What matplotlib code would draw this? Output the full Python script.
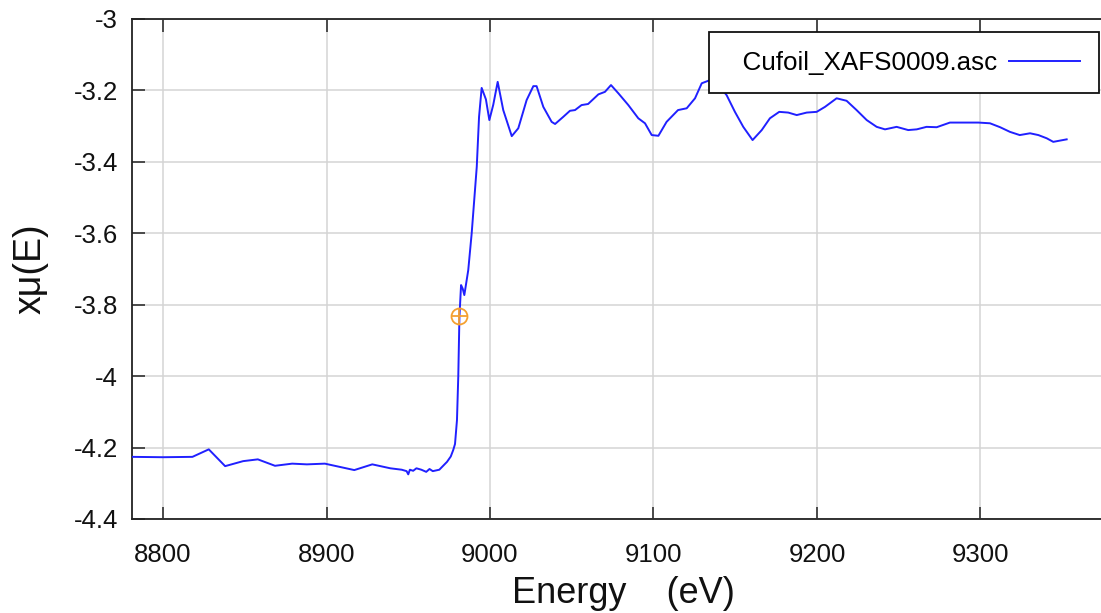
import matplotlib
matplotlib.use("Agg")
import matplotlib.pyplot as plt
from matplotlib.ticker import FixedLocator, FixedFormatter

plt.rcParams['font.family'] = ['Liberation Sans', 'DejaVu Sans']

# Data
energy = [8781, 8800, 8818, 8828, 8838, 8849, 8858, 8868.5, 8879, 8888, 8899, 8908, 8917,
          8928, 8939, 8946, 8949, 8950, 8951, 8953, 8955, 8958, 8961, 8963, 8965, 8969,
          8973.7, 8976, 8977.5, 8978.6, 8979.8, 8980.6, 8981.3, 8982.3, 8983.3, 8984.3,
          8986.7, 8988.8, 8991.9, 8993.3, 8994.9, 8997.5, 8999.6, 9002, 9004.7, 9008.1,
          9013.3, 9017.3, 9022.4, 9026.5, 9028.5, 9032.6, 9037.7, 9039.8, 9044.8, 9048.9,
          9052, 9056, 9060, 9066.3, 9070.3, 9074, 9078.5, 9084.6, 9090.7, 9094.8, 9098.9,
          9103, 9108, 9115, 9120.3, 9125.4, 9129.5, 9134.6, 9139.6, 9144.7, 9149.8, 9154.9,
          9160.6, 9166.2, 9171.2, 9176.9, 9182.4, 9187.6, 9193.7, 9199.8, 9204.9, 9212,
          9218.1, 9224.2, 9230.4, 9236.5, 9241.6, 9248.7, 9255.8, 9261, 9267, 9273.2,
          9281.3, 9289.5, 9298.7, 9305.8, 9312, 9318, 9324, 9330.3, 9335.4, 9340.5,
          9344.5, 9352.7]
mu = [-4.226, -4.227, -4.226, -4.205, -4.252, -4.238, -4.233, -4.251, -4.245, -4.247,
      -4.245, -4.254, -4.263, -4.247, -4.258, -4.262, -4.266, -4.275, -4.262, -4.265,
      -4.258, -4.262, -4.268, -4.260, -4.266, -4.262, -4.240, -4.225, -4.207, -4.190,
      -4.123, -4.00, -3.834, -3.745, -3.755, -3.773, -3.703, -3.60, -3.414, -3.274,
      -3.193, -3.225, -3.283, -3.240, -3.176, -3.255, -3.328, -3.306, -3.227, -3.188,
      -3.188, -3.246, -3.288, -3.294, -3.274, -3.257, -3.255, -3.241, -3.238, -3.211,
      -3.204, -3.185, -3.208, -3.241, -3.278, -3.292, -3.325, -3.327, -3.288, -3.255,
      -3.250, -3.222, -3.18, -3.171, -3.185, -3.213, -3.260, -3.302, -3.339, -3.311,
      -3.278, -3.260, -3.262, -3.269, -3.262, -3.260, -3.246, -3.222, -3.229, -3.255,
      -3.283, -3.302, -3.309, -3.302, -3.311, -3.309, -3.302, -3.303, -3.290, -3.290,
      -3.290, -3.292, -3.303, -3.316, -3.325, -3.320, -3.325, -3.334, -3.344, -3.337]
e0_energy = [8981.3]
e0_mu = [-3.832]
series_name = "Cufoil_XAFS0009.asc"
xticks = [8800, 8900, 9000, 9100, 9200, 9300]
yticks = [-3.0, -3.2, -3.4, -3.6, -3.8, -4.0, -4.2, -4.4]
ytick_labels = ["-3", "-3.2", "-3.4", "-3.6", "-3.8", "-4", "-4.2", "-4.4"]

W, H = 1101, 613
fig = plt.figure(figsize=(W / 100, H / 100), dpi=100)
left, right, top, bottom = 132, 1115, 19, 519
ax = fig.add_axes([left / W, 1 - bottom / H, (right - left) / W, (bottom - top) / H])

ax.plot(energy, mu, color='#2020ff', lw=1.4, label=series_name, zorder=3)
ax.plot(e0_energy, e0_mu, marker='o', ms=11.5, mfc='none', mec='#f5a030', mew=1.3,
        ls='none', zorder=4)
ax.plot(e0_energy, e0_mu, marker='+', ms=11.5, mec='#f5a030', mew=1.3,
        ls='none', zorder=4)

x_per_px = 100 / 163.5
ax.set_xlim(8800 - (163 - left) * x_per_px, 8800 + (right - 163) * x_per_px)
ax.set_ylim(-4.4, -3.0)

ax.xaxis.set_major_locator(FixedLocator(xticks))
ax.yaxis.set_major_locator(FixedLocator(yticks))
ax.yaxis.set_major_formatter(FixedFormatter(ytick_labels))

ax.grid(True, color='#d4d4d4', lw=1.1, zorder=0)
ax.set_axisbelow(True)
ax.tick_params(axis='both', direction='in', length=9, width=1.1, color='#222222',
               top=True, right=True, labelsize=18.5, labelcolor='#111111')
ax.tick_params(axis='x', pad=17)
ax.tick_params(axis='y', pad=10)
for s in ax.spines.values():
    s.set_linewidth(1.3)
    s.set_color('#222222')

ax.set_xlabel("Energy    (eV)", fontsize=26, labelpad=7, color='#111111')
ax.set_ylabel("xμ(E)", fontsize=27, labelpad=18, color='#111111')

leg = ax.legend(loc='upper right', bbox_to_anchor=(1099 / W, 1 - 32 / H),
                bbox_transform=fig.transFigure, borderaxespad=0, markerfirst=False,
                fontsize=18.7, fancybox=False, framealpha=1, edgecolor='#111111',
                handlelength=2.75, borderpad=0.72, handletextpad=0.45)
leg.get_frame().set_linewidth(1.3)
# extra left padding in the legend box, as in the reference
leg.get_texts()[0].set_text("  " + series_name)

fig.savefig("out.png", dpi=100)
